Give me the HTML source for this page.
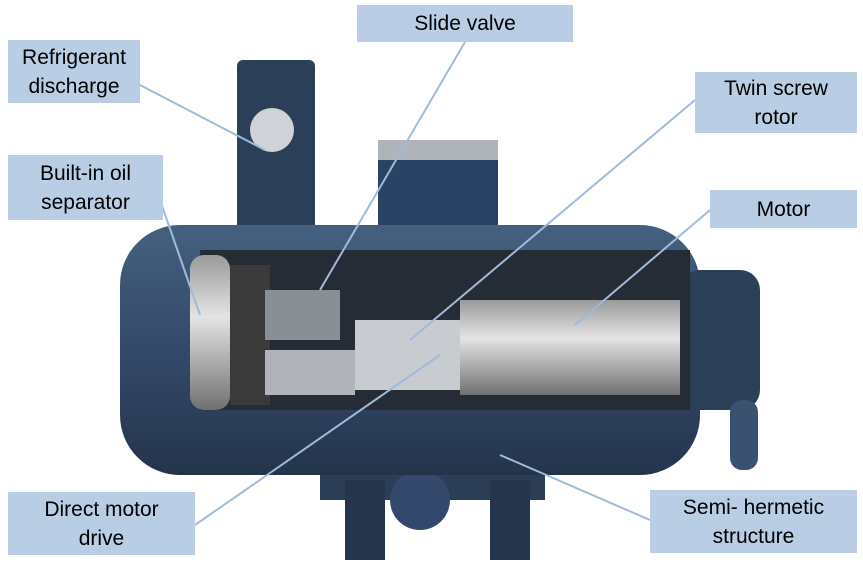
<!DOCTYPE html>
<html><head><style>
body{margin:0;background:#fff;width:863px;height:568px;overflow:hidden;position:relative;font-family:"Liberation Sans",sans-serif}
.b{position:absolute;background:#b9cde5;color:#000;font-size:21px;line-height:29px;text-align:center;display:flex;align-items:center;justify-content:center}
svg{position:absolute;left:0;top:0}
</style></head><body>
<svg width="863" height="568">
<defs>
<linearGradient id="g" x1="0" y1="0" x2="0" y2="1"><stop offset="0" stop-color="#45607f"/><stop offset=".5" stop-color="#34496a"/><stop offset="1" stop-color="#24344b"/></linearGradient>
<linearGradient id="m" x1="0" y1="0" x2="0" y2="1"><stop offset="0" stop-color="#9a9a9a"/><stop offset=".4" stop-color="#e4e4e4"/><stop offset="1" stop-color="#707070"/></linearGradient>
</defs>
<rect x="320" y="400" width="225" height="100" fill="#2c3e56"/>
<rect x="345" y="480" width="40" height="80" fill="#25364c"/>
<rect x="490" y="480" width="40" height="80" fill="#25364c"/>
<circle cx="420" cy="500" r="30" fill="#33486a"/>
<rect x="237" y="60" width="78" height="190" rx="6" fill="#2b3f58"/>
<circle cx="272" cy="130" r="22" fill="#cfd3d8"/>
<rect x="378" y="140" width="120" height="100" fill="#2a4263"/>
<rect x="378" y="140" width="120" height="20" fill="#aeb4ba"/>
<rect x="120" y="225" width="580" height="250" rx="60" fill="url(#g)"/>
<rect x="680" y="270" width="80" height="140" rx="20" fill="#2b3f58"/>
<rect x="730" y="400" width="28" height="70" rx="12" fill="#3a5270"/>
<rect x="200" y="250" width="490" height="160" fill="#262c35"/>
<rect x="190" y="255" width="40" height="155" rx="14" fill="url(#m)"/>
<rect x="230" y="265" width="40" height="140" fill="#3a3a3a"/>
<rect x="265" y="290" width="75" height="50" fill="#8a8f95"/>
<rect x="265" y="350" width="90" height="45" fill="#b0b4b8"/>
<rect x="355" y="320" width="105" height="70" fill="#c8cbcf"/>
<rect x="460" y="300" width="220" height="95" fill="url(#m)"/>
</svg>
<svg width="863" height="568" style="z-index:2">
<g stroke="#9fbadb" stroke-width="2" fill="none">
<line x1="465" y1="42" x2="320" y2="290"/>
<line x1="140" y1="85" x2="265" y2="150"/>
<line x1="160" y1="200" x2="200" y2="315"/>
<line x1="695" y1="100" x2="410" y2="340"/>
<line x1="710" y1="210" x2="575" y2="325"/>
<line x1="195" y1="525" x2="440" y2="355"/>
<line x1="650" y1="520" x2="500" y2="455"/>
</g>
</svg>
<div class="b" style="left:357px;top:5px;width:216px;height:37px;z-index:3">Slide valve</div>
<div class="b" style="left:8px;top:40px;width:132px;height:63px;z-index:3">Refrigerant<br>discharge</div>
<div class="b" style="left:695px;top:72px;width:162px;height:61px;z-index:3">Twin screw<br>rotor</div>
<div class="b" style="left:8px;top:155px;width:155px;height:65px;z-index:3">Built-in oil<br>separator</div>
<div class="b" style="left:710px;top:190px;width:147px;height:38px;z-index:3">Motor</div>
<div class="b" style="left:8px;top:492px;width:187px;height:63px;z-index:3">Direct motor<br>drive</div>
<div class="b" style="left:650px;top:490px;width:207px;height:63px;z-index:3">Semi- hermetic<br>structure</div>
</body></html>
